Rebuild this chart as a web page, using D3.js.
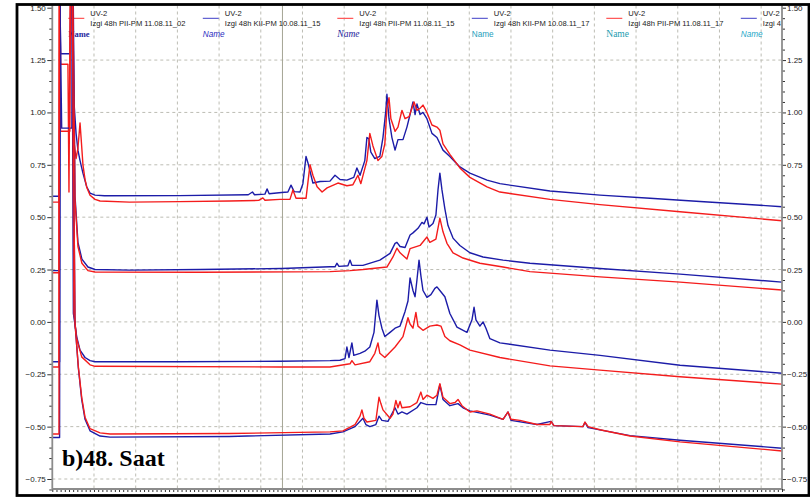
<!DOCTYPE html>
<html lang="en">
<head>
<meta charset="UTF-8">
<title>b)48. Saat</title>
<script src="https://d3js.org/d3.v7.min.js"></script>
<style>
  body { margin: 0; background: #fff; }
  svg { display: block; }
  .axis path, .axis line { stroke: #333; }
  .axis .domain { stroke: #8c8c8c; stroke-width: 2; }
  .axis text { font-family: "Liberation Sans", Arial, sans-serif; font-size: 8px; fill: #222; }
  .grid line { stroke: #bdbdb4; stroke-dasharray: 3,3; }
  .legend text { font-family: "Liberation Sans", Arial, sans-serif; font-size: 7.6px; fill: #222; }
  .trace { fill: none; stroke-width: 1.4; stroke-linejoin: round; }
</style>
</head>
<body>
<div id="chart"></div>
<script>
// [retention time (min), absorbance (AU)]
const red1 = [
  [0, 0.572], [0.33, 0.572], [0.35, 1.6], [0.40, 1.23], [0.75, 1.23], [0.80, 0.62], [0.86, 1.6], [0.96, 1.6],
  [1.04, 0.86], [1.14, 0.78], [1.23, 0.83], [1.33, 0.95], [1.38, 0.88], [1.47, 0.75], [1.57, 0.68], [1.66, 0.64],
  [1.81, 0.605], [2.05, 0.585], [2.29, 0.577], [3.7, 0.572], [6.1, 0.574], [8.5, 0.577], [9.9, 0.58], [10.1, 0.592],
  [10.2, 0.581], [10.92, 0.585], [11.4, 0.585], [11.54, 0.63], [11.69, 0.59], [12.17, 0.59], [12.36, 0.75], [12.5, 0.70],
  [12.7, 0.645], [12.94, 0.62], [13.18, 0.64], [13.7, 0.663], [14.13, 0.65], [14.42, 0.655], [14.66, 0.70], [14.8, 0.66],
  [15.09, 0.77], [15.23, 0.90], [15.38, 0.84], [15.62, 0.77], [15.81, 0.79], [15.95, 0.85], [16.05, 1.02], [16.15, 1.07],
  [16.24, 0.97], [16.44, 0.91], [16.58, 0.93], [16.77, 1.01], [16.92, 0.97], [17.11, 0.98], [17.25, 1.02], [17.35, 1.05],
  [17.49, 1.01], [17.64, 1.02], [17.78, 1.035], [17.97, 1.0], [18.21, 0.94], [18.45, 0.93], [18.59, 0.915], [18.74, 0.85],
  [19.07, 0.80], [19.55, 0.735], [20.03, 0.69], [20.85, 0.645], [21.47, 0.62], [23.87, 0.585], [26.27, 0.56], [30.11, 0.526],
  [35, 0.483]
];
const blue1 = [
  [0, 0.60], [0.34, 0.60], [0.36, 1.6], [0.40, 1.28], [0.85, 1.28], [0.89, 1.6], [0.97, 1.6], [1.04, 1.05],
  [1.14, 0.9], [1.23, 0.82], [1.33, 0.77], [1.47, 0.71], [1.65, 0.645], [1.81, 0.615], [2.05, 0.605], [2.5, 0.602],
  [6.1, 0.603], [9.4, 0.607], [9.6, 0.62], [9.7, 0.607], [10.2, 0.61], [10.3, 0.635], [10.4, 0.612], [11.0, 0.618],
  [11.3, 0.62], [11.45, 0.653], [11.6, 0.622], [11.88, 0.62], [12.02, 0.66], [12.17, 0.79], [12.26, 0.76], [12.5, 0.663],
  [12.84, 0.67], [13.32, 0.672], [13.56, 0.70], [13.8, 0.68], [14.13, 0.677], [14.46, 0.69], [14.61, 0.735], [14.76, 0.70],
  [14.99, 0.77], [15.09, 0.88], [15.18, 0.875], [15.28, 0.81], [15.47, 0.78], [15.71, 0.79], [15.86, 0.88], [16.0, 1.01],
  [16.05, 1.087], [16.15, 0.97], [16.29, 0.88], [16.44, 0.82], [16.58, 0.87], [16.82, 0.87], [17.01, 0.93], [17.16, 0.99],
  [17.3, 1.05], [17.4, 0.99], [17.49, 1.04], [17.64, 0.99], [17.78, 1.0], [17.97, 0.97], [18.21, 0.90], [18.45, 0.88],
  [18.74, 0.82], [19.07, 0.79], [19.55, 0.74], [20.03, 0.71], [20.85, 0.677], [21.47, 0.66], [23.87, 0.625], [26.27, 0.605],
  [28.67, 0.59], [31.07, 0.575], [35, 0.55]
];
const red2 = [
  [0, 0.235], [0.33, 0.235], [0.35, 1.6], [0.39, 0.91], [0.84, 0.91], [0.88, 1.6], [0.98, 1.6], [1.09, 0.58],
  [1.23, 0.36], [1.42, 0.28], [1.71, 0.245], [2.05, 0.238], [7.1, 0.237], [13.32, 0.24], [14.28, 0.245], [14.9, 0.25],
  [16.05, 0.262], [16.34, 0.31], [16.53, 0.352], [16.68, 0.33], [17.01, 0.30], [17.16, 0.35], [17.64, 0.365], [17.97, 0.405],
  [18.11, 0.38], [18.4, 0.395], [18.59, 0.495], [18.74, 0.43], [18.93, 0.375], [19.22, 0.33], [19.7, 0.305], [20.51, 0.28],
  [21.62, 0.262], [22.91, 0.24], [26.27, 0.215], [30.11, 0.19], [35, 0.152]
];
const blue2 = [
  [0, 0.245], [0.34, 0.245], [0.36, 1.6], [0.45, 0.925], [0.94, 0.925], [0.96, 1.6], [1.0, 1.6], [1.09, 0.6],
  [1.23, 0.38], [1.42, 0.30], [1.71, 0.262], [2.05, 0.25], [3.7, 0.247], [7.1, 0.25], [11.0, 0.255], [13.32, 0.263],
  [13.56, 0.263], [13.65, 0.28], [13.75, 0.265], [14.18, 0.268], [14.28, 0.295], [14.37, 0.27], [14.9, 0.27], [15.71, 0.295],
  [16.2, 0.327], [16.44, 0.375], [16.53, 0.38], [16.68, 0.36], [16.92, 0.355], [17.16, 0.415], [17.3, 0.425], [17.54, 0.447],
  [17.73, 0.475], [17.83, 0.468], [17.97, 0.50], [18.07, 0.453], [18.26, 0.47], [18.4, 0.51], [18.5, 0.63], [18.59, 0.71],
  [18.69, 0.63], [18.83, 0.54], [18.98, 0.46], [19.22, 0.40], [19.55, 0.365], [20.03, 0.33], [20.66, 0.31], [21.62, 0.295],
  [22.91, 0.28], [26.27, 0.255], [30.11, 0.228], [35, 0.19]
];
const red3 = [
  [0, -0.215], [0.32, -0.215], [0.34, 1.6], [0.96, 1.6], [1.04, 0.04], [1.17, -0.08], [1.41, -0.167], [1.81, -0.205],
  [2.05, -0.212], [10.9, -0.215], [13.32, -0.215], [14.28, -0.2], [14.37, -0.185], [14.52, -0.205], [15.23, -0.19], [15.47, -0.15],
  [15.62, -0.10], [15.71, -0.15], [15.95, -0.17], [16.44, -0.12], [16.82, -0.07], [17.06, 0.02], [17.16, -0.01], [17.3, -0.03],
  [17.44, 0.045], [17.54, -0.02], [17.78, -0.04], [18.11, -0.02], [18.45, -0.015], [18.64, -0.02], [18.83, -0.07], [19.07, -0.09],
  [19.55, -0.11], [20.03, -0.135], [21.47, -0.17], [23.87, -0.21], [26.27, -0.23], [30.11, -0.262], [35, -0.297]
];
const blue3 = [
  [0, -0.19], [0.35, -0.19], [0.37, 1.6], [0.95, 1.6], [1.01, 0.04], [1.17, -0.07], [1.33, -0.135], [1.57, -0.17],
  [1.81, -0.185], [2.05, -0.19], [6.1, -0.19], [10.9, -0.188], [13.32, -0.185], [13.8, -0.183], [14.04, -0.175], [14.13, -0.12],
  [14.23, -0.17], [14.37, -0.10], [14.46, -0.16], [14.76, -0.15], [14.99, -0.14], [15.23, -0.12], [15.43, -0.05], [15.57, 0.104],
  [15.67, 0.03], [15.81, -0.03], [15.95, -0.07], [16.2, -0.05], [16.44, -0.03], [16.68, -0.02], [16.92, 0.05], [17.06, 0.10],
  [17.16, 0.21], [17.3, 0.15], [17.4, 0.12], [17.49, 0.2], [17.59, 0.295], [17.68, 0.22], [17.78, 0.15], [17.97, 0.117],
  [18.16, 0.13], [18.35, 0.16], [18.45, 0.167], [18.59, 0.15], [18.83, 0.12], [19.07, 0.04], [19.41, -0.025], [19.89, -0.05],
  [20.13, 0.01], [20.23, 0.07], [20.32, 0.01], [20.51, -0.02], [20.66, 0.0], [20.8, -0.03], [20.99, -0.08], [21.47, -0.10],
  [23.87, -0.135], [26.27, -0.16], [30.11, -0.207], [35, -0.245]
];
const red4 = [
  [0, -0.535], [0.32, -0.535], [0.34, 1.6], [0.95, 1.6], [1.09, -0.006], [1.25, -0.215], [1.41, -0.36], [1.57, -0.455],
  [1.81, -0.51], [2.29, -0.53], [2.77, -0.535], [8.5, -0.533], [13.32, -0.525], [13.94, -0.52], [14.52, -0.49], [14.76, -0.45],
  [14.85, -0.42], [14.95, -0.46], [15.09, -0.478], [15.52, -0.47], [15.67, -0.36], [15.76, -0.39], [15.86, -0.42], [16.2, -0.46],
  [16.34, -0.44], [16.48, -0.375], [16.58, -0.41], [16.68, -0.38], [16.77, -0.41], [17.16, -0.405], [17.49, -0.385], [17.68, -0.335],
  [17.78, -0.37], [17.97, -0.35], [18.26, -0.365], [18.45, -0.35], [18.59, -0.295], [18.74, -0.36], [19.07, -0.39], [19.32, -0.385],
  [19.46, -0.37], [19.65, -0.40], [20.03, -0.43], [20.37, -0.425], [20.99, -0.44], [21.62, -0.465], [21.86, -0.43], [22.0, -0.465],
  [22.43, -0.47], [23.25, -0.49], [23.87, -0.49], [23.92, -0.475], [24.06, -0.495], [25.45, -0.50], [25.55, -0.478], [25.7, -0.50],
  [26.27, -0.515], [27.71, -0.545], [30.11, -0.573], [35, -0.616]
];
const blue4 = [
  [0, -0.552], [0.35, -0.552], [0.37, 1.6], [0.95, 1.6], [1.09, -0.006], [1.25, -0.22], [1.41, -0.37], [1.57, -0.465],
  [1.81, -0.52], [2.29, -0.545], [2.77, -0.55], [8.5, -0.547], [13.32, -0.535], [13.94, -0.525], [14.52, -0.50], [14.9, -0.46],
  [15.04, -0.49], [15.23, -0.50], [15.52, -0.49], [15.67, -0.45], [15.81, -0.47], [16.1, -0.475], [16.44, -0.41], [16.58, -0.44],
  [16.77, -0.43], [17.01, -0.44], [17.49, -0.41], [17.68, -0.385], [17.97, -0.395], [18.4, -0.395], [18.59, -0.30], [18.74, -0.37],
  [19.07, -0.40], [19.46, -0.39], [19.7, -0.41], [20.03, -0.425], [20.99, -0.445], [21.62, -0.465], [21.86, -0.43], [22.0, -0.47],
  [23.25, -0.49], [23.92, -0.475], [24.06, -0.495], [25.45, -0.50], [25.55, -0.48], [25.7, -0.505], [27.71, -0.543], [30.11, -0.565],
  [35, -0.603]
];

// legend (the sixth entry is cut at the plot edge in the original)
const legendTitles = ["UV-2", "UV-2", "UV-2", "UV-2", "UV-2", "UV-2"];
const legendNames = [
  "Izgi 48h PII-PM 11.08.11_02", "Izgi 48h KII-PM 10.08.11_15", "Izgi 48h PII-PM 11.08.11_15",
  "Izgi 48h KII-PM 10.08.11_17", "Izgi 48h PII-PM 11.08.11_17", "Izgi 4"
];

const yTicks = [-0.75, -0.5, -0.25, 0, 0.25, 0.5, 0.75, 1.0, 1.25, 1.5];
const xGrid = d3.range(2, 35, 2);
const markerTime = 11.04;

const RED = "#f41c1c", BLUE = "#1c1ca8";
const traces = [
  {data: blue1, color: BLUE}, {data: red1, color: RED},
  {data: blue2, color: BLUE}, {data: red2, color: RED},
  {data: blue3, color: BLUE}, {data: red3, color: RED},
  {data: blue4, color: BLUE}, {data: red4, color: RED}
];
const legendColors = ["#ff5a5a", "#6464d2", "#ff5a5a", "#6464d2", "#ff5a5a", "#6464d2"];
const nameStyles = [
  {family: "Liberation Serif", weight: "bold", style: "normal", size: 8.5, color: "#1f1fa0"},
  {family: "Liberation Sans", weight: "normal", style: "italic", size: 8.2, color: "#2b2bc0"},
  {family: "Liberation Serif", weight: "normal", style: "italic", size: 9.5, color: "#23239a"},
  {family: "Liberation Sans", weight: "normal", style: "normal", size: 8.2, color: "#26a0bc"},
  {family: "Liberation Serif", weight: "normal", style: "normal", size: 9.5, color: "#1d9cb0"},
  {family: "Liberation Sans", weight: "normal", style: "italic", size: 8.2, color: "#26a8c8"}
];

const W = 810, H = 497;
const plot = {left: 52.3, right: 782, top: 5.5, bottom: 489};

const svg = d3.select("#chart").append("svg")
  .attr("width", W).attr("height", H);

svg.append("rect").attr("width", W).attr("height", H).attr("fill", "#fff");

const x = d3.scaleLinear().domain([0, 35]).range([plot.left, plot.right]);
const y = d3.scaleLinear().domain([-0.75, 1.5]).range([479, 7.7]);

svg.append("clipPath").attr("id", "clip")
  .append("rect")
  .attr("x", plot.left).attr("y", plot.top)
  .attr("width", plot.right - plot.left).attr("height", plot.bottom - plot.top);

// grid
const grid = svg.append("g").attr("class", "grid");
grid.selectAll(".vg").data(xGrid).enter().append("line")
  .attr("x1", d => x(d)).attr("x2", d => x(d))
  .attr("y1", plot.top).attr("y2", plot.bottom);
grid.selectAll(".hg").data(yTicks.filter(d => d < 1.5)).enter().append("line")
  .attr("x1", plot.left).attr("x2", plot.right)
  .attr("y1", d => y(d)).attr("y2", d => y(d));

// marker line
svg.append("line")
  .attr("x1", x(markerTime)).attr("x2", x(markerTime))
  .attr("y1", plot.top).attr("y2", plot.bottom)
  .attr("stroke", "#a5a595").attr("stroke-width", 1);

// legend
const legend = svg.append("g").attr("class", "legend").attr("clip-path", "url(#clip)");
legendNames.forEach((name, i) => {
  const x0 = 68.3 + i * 134.5;
  const g = legend.append("g");
  g.append("line")
    .attr("x1", x0).attr("x2", x0 + 16).attr("y1", 18.3).attr("y2", 18.3)
    .attr("stroke", legendColors[i]).attr("stroke-width", 1.3);
  g.append("text").attr("x", x0 + 22).attr("y", 15.5).text(legendTitles[i]);
  g.append("text").attr("x", x0 + 22).attr("y", 25.5).text(name);
  const s = nameStyles[i];
  g.append("text").attr("x", x0).attr("y", 37)
    .style("font-family", s.family).style("font-weight", s.weight)
    .style("font-style", s.style).style("font-size", s.size + "px")
    .style("fill", s.color)
    .text("Name");
});

// traces
const line = d3.line().x(d => x(d[0])).y(d => y(d[1]));
svg.append("g").attr("clip-path", "url(#clip)")
  .selectAll("path").data(traces).enter().append("path")
  .attr("class", "trace")
  .attr("stroke", d => d.color)
  .attr("d", d => line(d.data));

// axes
const minorY = d3.range(-0.8, 1.5001, 0.05).filter(v => Math.abs(Math.round(v * 4) - v * 4) > 1e-6);
const fmt = d3.format(".2f");

svg.append("g").attr("class", "axis")
  .attr("transform", `translate(${plot.left},0)`)
  .call(d3.axisLeft(y).tickValues(minorY).tickSize(3).tickFormat(""))
  .call(g => g.select(".domain").remove());
svg.append("g").attr("class", "axis")
  .attr("transform", `translate(${plot.left},0)`)
  .call(d3.axisLeft(y).tickValues(yTicks).tickSize(5).tickPadding(1.5).tickFormat(fmt))
  .call(g => g.select(".domain").remove());

svg.append("g").attr("class", "axis")
  .attr("transform", `translate(${plot.right},0)`)
  .call(d3.axisRight(y).tickValues(minorY).tickSize(3).tickFormat(""))
  .call(g => g.select(".domain").remove());
svg.append("g").attr("class", "axis")
  .attr("transform", `translate(${plot.right},0)`)
  .call(d3.axisRight(y).tickValues(yTicks).tickSize(4).tickPadding(1).tickFormat(fmt))
  .call(g => g.select(".domain").remove());

const minorX = d3.range(0, 35.001, 0.2);
svg.append("g").attr("class", "axis")
  .attr("transform", `translate(0,${plot.bottom})`)
  .call(d3.axisBottom(x).tickValues(minorX).tickSize(3).tickFormat(""))
  .call(g => g.select(".domain").remove());

// axis lines
[[plot.left, plot.top, plot.left, plot.bottom], [plot.right, plot.top, plot.right, plot.bottom],
 [plot.left, plot.bottom, plot.right, plot.bottom]].forEach(p => {
  svg.append("line")
    .attr("x1", p[0]).attr("y1", p[1]).attr("x2", p[2]).attr("y2", p[3])
    .attr("stroke", "#8c8c8c").attr("stroke-width", 1.8);
});

// panel label
svg.append("text")
  .attr("x", 62).attr("y", 466)
  .style("font-family", "'Liberation Serif', 'DejaVu Serif', serif")
  .style("font-weight", "bold").style("font-size", "24px")
  .text("b)48. Saat");

// outer frame
svg.append("rect")
  .attr("x", 17).attr("y", 4.5).attr("width", 792).attr("height", 491)
  .attr("fill", "none").attr("stroke", "#000").attr("stroke-width", 2.8);
</script>
</body>
</html>
